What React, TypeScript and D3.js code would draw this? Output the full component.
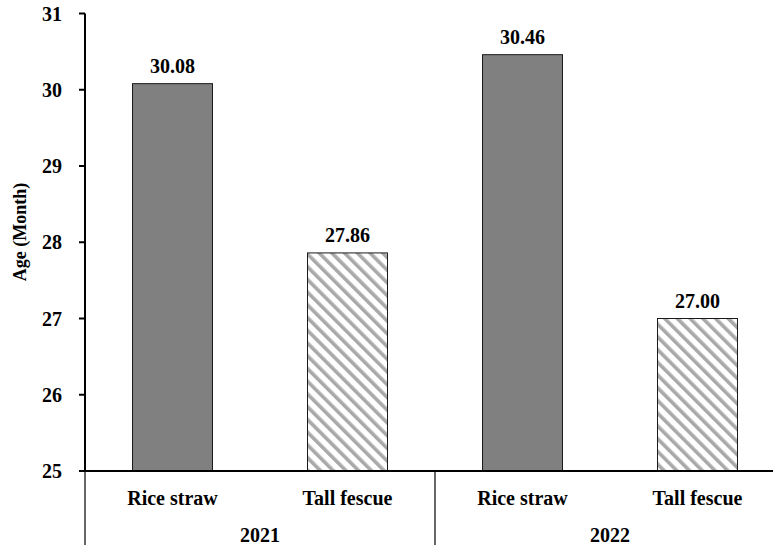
import React from "react";
import * as d3 from "d3";

const categories = ["Rice straw", "Tall fescue", "Rice straw", "Tall fescue"];
const years = ["2021", "2022"];
const values = [30.08, 27.86, 30.46, 27.0];
const patterned = [false, true, false, true];
const yTicks = [25, 26, 27, 28, 29, 30, 31];

const W = 773;
const H = 545;
const FONT = "Liberation Serif";

export default function App() {
  const x = d3.scaleBand<number>().domain(d3.range(categories.length)).range([85, 785]).padding(0);
  const y = d3.scaleLinear().domain([25, 31]).range([471, 13.5]);
  const barW = x.bandwidth() * 0.457;
  const groupBounds = [85, 435, 785];
  const ts = { fontFamily: FONT, fontWeight: 700 } as React.CSSProperties;

  return (
    <svg width={W} height={H} style={{ position: "absolute", left: 0, top: 0, display: "block" }}>
      <defs>
        <pattern id="hatch" patternUnits="userSpaceOnUse" width={9} height={9} patternTransform="rotate(-45)">
          <rect width={9} height={9} fill="#fff" />
          <rect x={0} y={0} width={3.6} height={9} fill="#a9a9a9" />
        </pattern>
      </defs>
      <rect width={W} height={H} fill="#fff" />
      {values.map((v, i) => {
        const cx = (x(i) as number) + x.bandwidth() / 2;
        return (
          <g key={i}>
            <rect
              x={cx - barW / 2}
              y={y(v)}
              width={barW}
              height={y(25) - y(v)}
              fill={patterned[i] ? "url(#hatch)" : "#808080"}
              stroke="#1a1a1a"
              strokeWidth={1}
            />
            <text x={cx} y={y(v) - 11} textAnchor="middle" fontSize={20} style={ts}>
              {v.toFixed(2)}
            </text>
            <text x={cx} y={505} textAnchor="middle" fontSize={20} style={ts}>
              {categories[i]}
            </text>
          </g>
        );
      })}
      {years.map((yr, i) => (
        <text key={yr} x={(groupBounds[i] + groupBounds[i + 1]) / 2} y={542} textAnchor="middle" fontSize={20} style={ts}>
          {yr}
        </text>
      ))}
      {groupBounds.map((gx, i) => (
        <line key={i} x1={gx} x2={gx} y1={471} y2={H} stroke="#000" strokeWidth={1.2} />
      ))}
      <line x1={85} x2={85} y1={y(31)} y2={471} stroke="#000" strokeWidth={2} />
      <line x1={79} x2={W} y1={471} y2={471} stroke="#000" strokeWidth={2} />
      {yTicks.map((t) => (
        <g key={t}>
          <line x1={79} x2={85} y1={y(t)} y2={y(t)} stroke="#000" strokeWidth={2} />
          <text x={62} y={y(t)} dy="0.35em" textAnchor="end" fontSize={20} style={ts}>
            {t}
          </text>
        </g>
      ))}
      <text transform={`translate(26,232) rotate(-90)`} textAnchor="middle" fontSize={18} style={ts}>
        Age (Month)
      </text>
    </svg>
  );
}
